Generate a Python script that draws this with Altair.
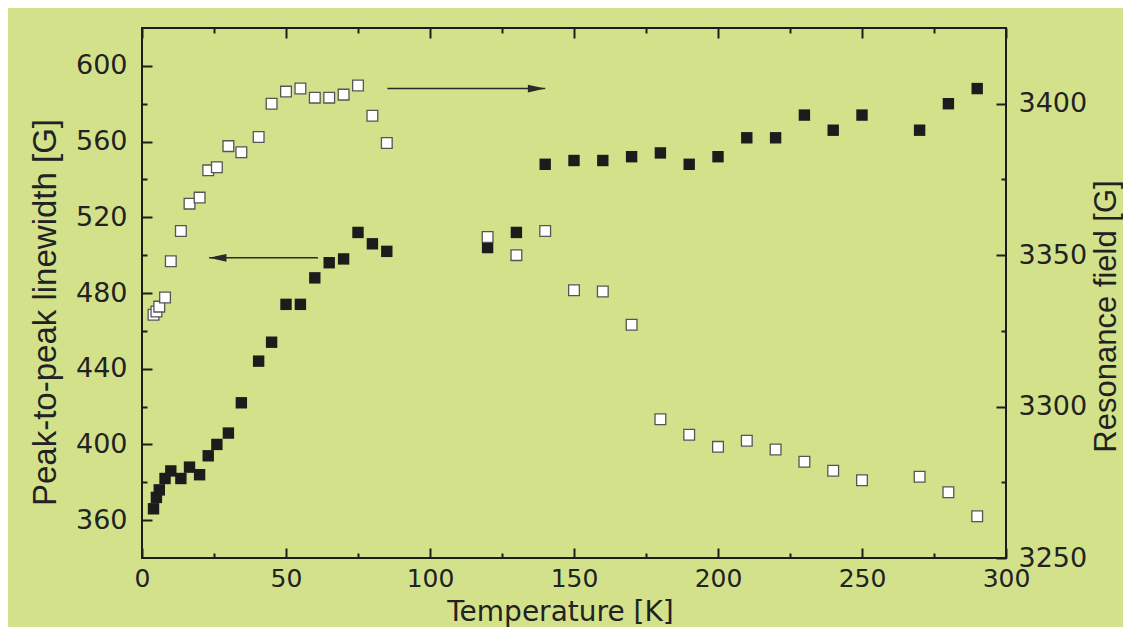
import altair as alt
import pandas as pd

# ---- data ----
T_lw = [4, 5, 6, 8, 10, 13.5, 16.5, 20, 23, 26, 30, 34.5, 40.5, 45, 50, 55, 60, 65, 70, 75,
        80, 85, 120, 130, 140, 150, 160, 170, 180, 190, 200, 210, 220, 230, 240, 250, 270, 280, 290]
LW = [366, 372, 376, 382, 386, 382, 388, 384, 394, 400, 406, 422, 444, 454, 474, 474, 488, 496, 498, 512,
      506, 502, 504, 512, 548, 550, 550, 552, 554, 548, 552, 562, 562, 574, 566, 574, 566, 580, 588]

T_rf = [4, 5, 6, 8, 10, 13.5, 16.5, 20, 23, 26, 30, 34.5, 40.5, 45, 50, 55, 60, 65, 70, 75,
        80, 85, 120, 130, 140, 150, 160, 170, 180, 190, 200, 210, 220, 230, 240, 250, 270, 280, 290]
RF = [3330.3, 3331.4, 3333, 3336, 3348, 3358, 3367, 3369, 3378, 3379, 3386, 3384, 3389, 3400, 3404,
      3405, 3402, 3402, 3403, 3406, 3396, 3387, 3356, 3350, 3358, 3338.4, 3338, 3327, 3295.8, 3290.7,
      3286.7, 3288.7, 3285.8, 3281.8, 3278.8, 3275.7, 3276.8, 3271.7, 3263.8]

x_major = [0, 50, 100, 150, 200, 250, 300]
x_all = [0, 25, 50, 75, 100, 125, 150, 175, 200, 225, 250, 275, 300]
lw_major = [360, 400, 440, 480, 520, 560, 600]
lw_all = [360, 380, 400, 420, 440, 460, 480, 500, 520, 540, 560, 580, 600]
rf_major = [3250, 3300, 3350, 3400]
rf_all = [3250, 3275, 3300, 3325, 3350, 3375, 3400]

# annotation arrows (data coordinates)
arrow_left_from, arrow_left_to, arrow_left_y = 61.1, 23.3, 498.6      # left axis
arrow_right_from, arrow_right_to, arrow_right_y = 85.2, 140.0, 3405.0  # right axis

X_DOMAIN = [0, 300]
LW_DOMAIN = [340, 620]
RF_DOMAIN = [3250, 3425]

W, H = 864, 530
BG = "#d3e28a"
INK = "#1c1c1c"
TXT = "#222222"

df_lw = pd.DataFrame({"T": T_lw, "LW": LW})
df_rf = pd.DataFrame({"T": T_rf, "RF": RF})
df_al = pd.DataFrame({"T1": [arrow_left_from], "T2": [arrow_left_to], "LW": [arrow_left_y]})
df_ar = pd.DataFrame({"T1": [arrow_right_from], "T2": [arrow_right_to], "RF": [arrow_right_y]})

xs = alt.Scale(domain=X_DOMAIN, nice=False, zero=False)
lws = alt.Scale(domain=LW_DOMAIN, nice=False, zero=False)
rfs = alt.Scale(domain=RF_DOMAIN, nice=False, zero=False)

lab = dict(labelFont="DejaVu Sans", labelColor=TXT, grid=False, domain=False,
           ticks=False, tickSize=0, labelOverlap=False, format="d")


def tick_axis(orient, offset, values, major_mod):
    return alt.Axis(orient=orient, offset=offset, values=values, labels=False, title=None,
                    domain=False, grid=False, ticks=True, tickSize=10, tickWidth=2,
                    tickColor=INK,
                    tickDash={"condition": {"test": f"datum.value % {major_mod} === 0",
                                            "value": [20, 1]},
                              "value": [5, 30]})


# layer 1: linewidth (filled squares), carries bottom labels + left labels
filled = alt.Chart(df_lw).mark_point(shape="square", filled=True, size=130, opacity=1,
                                     color=INK).encode(
    x=alt.X("T:Q", scale=xs, axis=alt.Axis(
        orient="bottom", values=x_major, labelPadding=8, labelFlush=False, labelFontSize=25,
        title="Temperature [K]", titleFont="DejaVu Sans", titleFontSize=28,
        titleFontWeight="normal", titleColor=TXT, titleX=418, titleY=62,
        titleBaseline="alphabetic", titleAlign="center", **lab)),
    y=alt.Y("LW:Q", scale=lws, axis=alt.Axis(
        orient="left", values=lw_major, labelPadding=15, labelFontSize=27,
        title="Peak-to-peak linewidth [G]", titleFont="Liberation Sans", titleFontSize=33,
        titleFontWeight="normal", titleColor=TXT, titleAngle=270, titleX=-87, titleY=284,
        titleBaseline="alphabetic", titleAlign="center", **lab)),
)

# layer 2: resonance field (open squares), carries right labels + bottom-edge ticks
opened = alt.Chart(df_rf).mark_point(shape="square", filled=True, size=115, opacity=1,
                                     fill="white", stroke="#555555", strokeWidth=1.3).encode(
    x=alt.X("T:Q", scale=xs, axis=tick_axis("top", -H, x_all, 50)),
    y=alt.Y("RF:Q", scale=rfs, axis=alt.Axis(
        orient="right", values=rf_major, labelPadding=12, labelFontSize=27,
        title="Resonance field [G]", titleFont="Liberation Sans", titleFontSize=31,
        titleFontWeight="normal", titleColor=TXT, titleAngle=270, titleX=109, titleY=288,
        titleBaseline="alphabetic", titleAlign="center", **lab)),
)

# layer 3: left arrow shaft, carries top-edge ticks + left-edge ticks
left_shaft = alt.Chart(df_al).mark_rule(color="#2a2a2a", strokeWidth=1.4).encode(
    x=alt.X("T1:Q", scale=xs, axis=tick_axis("bottom", -H, x_all, 50)),
    x2="T2:Q",
    y=alt.Y("LW:Q", scale=lws, axis=tick_axis("right", -W, lw_all, 40)),
)
left_head = alt.Chart(df_al).mark_point(shape="M0,0L2,-0.45L2,0.45Z", filled=True, size=300,
                                        opacity=1, color="#2a2a2a").encode(
    x=alt.X("T2:Q", scale=xs, axis=None),
    y=alt.Y("LW:Q", scale=lws, axis=None),
)

# layer 5: right arrow shaft, carries right-edge ticks
right_shaft = alt.Chart(df_ar).mark_rule(color="#2a2a2a", strokeWidth=1.4).encode(
    x=alt.X("T1:Q", scale=xs, axis=None),
    x2="T2:Q",
    y=alt.Y("RF:Q", scale=rfs, axis=tick_axis("left", -W, rf_all, 50)),
)
right_head = alt.Chart(df_ar).mark_point(shape="M0,0L-2,-0.45L-2,0.45Z", filled=True, size=300,
                                         opacity=1, color="#2a2a2a").encode(
    x=alt.X("T2:Q", scale=xs, axis=None),
    y=alt.Y("RF:Q", scale=rfs, axis=None),
)

chart = alt.layer(filled, opened, left_shaft, left_head, right_shaft, right_head).resolve_scale(
    y="independent"
).resolve_axis(
    x="independent", y="independent"
).properties(
    width=W, height=H,
    background=BG,
    autosize=alt.AutoSizeParams(type="none"),
    padding={"left": 134, "top": 20, "right": 117, "bottom": 69},
).configure_view(
    stroke=INK, strokeWidth=2, fill=BG
)

chart.save("out.html", embed_options={"renderer": "svg", "actions": False})
